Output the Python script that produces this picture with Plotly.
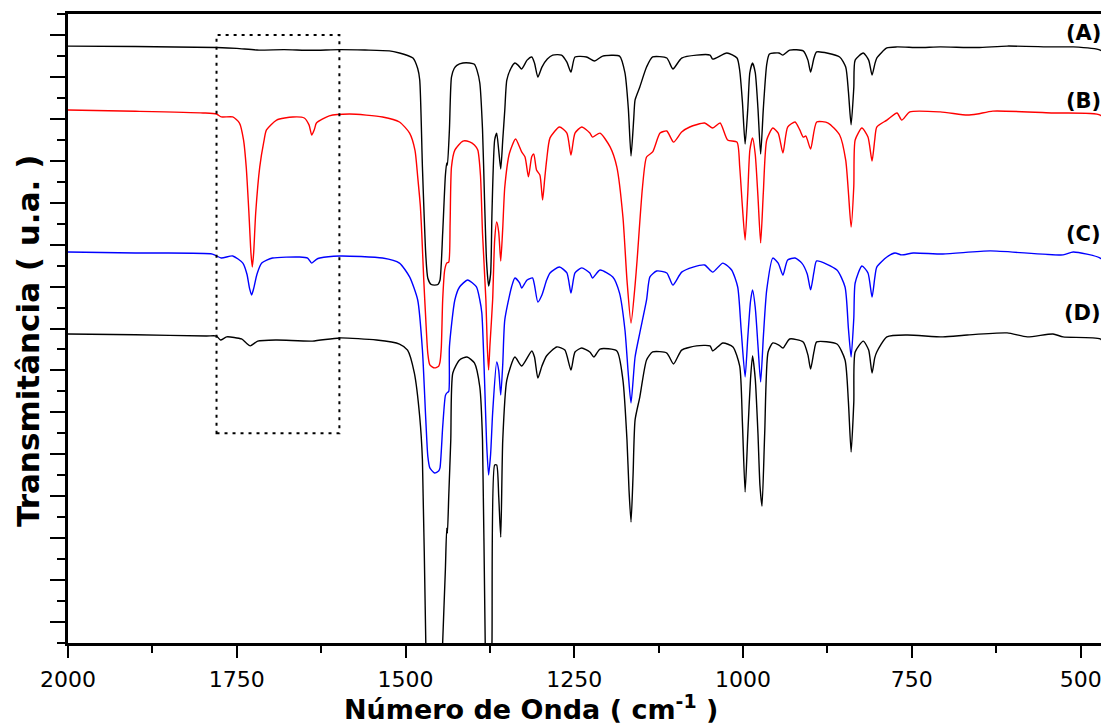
import plotly.graph_objects as go

# ---------------- data (wavenumber cm-1, transmittance a.u. with vertical offsets) ----------------
wn_a = [2000, 1900, 1780, 1750, 1720, 1680, 1640, 1598, 1560, 1524, 1509, 1497, 1489, 1482, 1479, 1475,
        1470, 1467, 1462, 1457, 1452, 1449, 1445, 1441, 1439, 1438, 1435, 1432, 1428, 1424, 1415, 1405,
        1398, 1394, 1390, 1386, 1383, 1380, 1377, 1374, 1372, 1368, 1365, 1362, 1359, 1356, 1353, 1350,
        1344, 1338, 1333, 1328, 1320, 1313, 1309, 1304, 1298, 1290, 1282, 1269, 1261, 1255, 1249, 1232,
        1220, 1208, 1183, 1175, 1170, 1166, 1162, 1160, 1153, 1143, 1134, 1113, 1104, 1091, 1069, 1049,
        1045, 1024, 1009, 1005, 1001, 997, 993, 990, 986, 982, 978, 974, 970, 965, 961, 947, 941, 931,
        911, 904, 900, 895, 891, 857, 848, 844, 840, 836, 834, 822, 814, 809, 805, 802, 787, 772, 740,
        708, 653, 609, 541, 511, 471, 459]
tr_a = [28.47, 28.45, 28.40, 28.36, 28.28, 28.30, 28.27, 28.30, 28.28, 28.24, 28.14, 28.02, 27.90, 27.40,
        26.85, 22.70, 18.50, 17.40, 17.10, 17.07, 17.10, 17.30, 19.55, 22.30, 22.89, 22.80, 24.50, 26.99,
        27.40, 27.55, 27.66, 27.66, 27.60, 27.30, 26.71, 24.50, 21.13, 18.20, 17.03, 17.60, 20.50, 23.99,
        24.32, 23.50, 22.61, 24.00, 25.42, 26.85, 27.40, 27.66, 27.55, 27.38, 27.80, 27.95, 27.66, 26.99,
        27.47, 27.85, 28.04, 28.04, 27.70, 27.23, 27.95, 27.95, 27.76, 27.99, 27.99, 27.19, 25.50, 23.23,
        25.00, 25.90, 26.52, 27.47, 27.95, 27.90, 27.38, 27.90, 28.04, 28.04, 27.85, 28.14, 27.90, 27.30,
        25.80, 23.80, 25.50, 27.20, 27.66, 27.20, 25.50, 23.32, 25.50, 27.60, 28.09, 28.14, 28.04, 28.28,
        28.24, 27.80, 27.23, 27.90, 28.19, 27.95, 27.47, 26.30, 24.71, 26.50, 27.80, 28.14, 27.80, 27.09,
        27.60, 27.90, 28.38, 28.43, 28.40, 28.43, 28.40, 28.47, 28.43, 28.43, 28.28, 27.95]

wn_b = [2000, 1900, 1800, 1780, 1773, 1756, 1746, 1740, 1736, 1732, 1729, 1727, 1725, 1722, 1716, 1710,
        1706, 1691, 1667, 1650, 1643, 1639, 1635, 1632, 1613, 1583, 1534, 1509, 1494, 1486, 1482, 1478,
        1476, 1473, 1470, 1467, 1464, 1457, 1451, 1449, 1447, 1445, 1442, 1439, 1436, 1434, 1432, 1427,
        1415, 1405, 1398, 1393, 1389, 1386, 1381, 1379, 1377, 1375, 1371, 1368, 1365, 1362, 1359, 1356,
        1353, 1346, 1337, 1328, 1323, 1318, 1313, 1310, 1306, 1301, 1297, 1294, 1291, 1286, 1272, 1261,
        1255, 1249, 1239, 1227, 1223, 1212, 1197, 1187, 1178, 1172, 1166, 1160, 1157, 1149, 1143, 1134,
        1123, 1113, 1103, 1091, 1079, 1057, 1045, 1034, 1023, 1009, 1005, 1001, 997, 993, 990, 986, 982,
        978, 974, 970, 965, 956, 948, 941, 934, 923, 916, 911, 907, 900, 891, 874, 857, 848, 844, 840,
        836, 834, 824, 815, 809, 805, 802, 787, 772, 765, 753, 708, 668, 653, 630, 541, 471, 459]
tr_b = [25.42, 25.36, 25.28, 25.23, 25.09, 25.09, 24.80, 24.00, 22.70, 20.50, 18.60, 17.93, 18.60, 20.50,
        22.70, 23.90, 24.47, 24.94, 25.09, 25.04, 24.71, 24.23, 24.50, 24.80, 25.14, 25.23, 25.09, 24.85,
        24.32, 23.50, 22.23, 20.80, 19.55, 17.30, 15.41, 13.80, 13.26, 13.12, 13.20, 13.40, 14.12, 16.36,
        17.79, 18.12, 18.17, 20.00, 22.70, 23.51, 23.94, 23.90, 23.75, 23.51, 22.30, 19.55, 16.36, 14.20,
        13.02, 14.20, 16.36, 19.22, 20.08, 19.60, 18.22, 19.80, 21.75, 23.37, 24.04, 23.42, 23.18, 22.23,
        23.20, 23.32, 22.56, 22.32, 21.13, 22.10, 23.03, 24.09, 24.61, 24.32, 23.27, 24.32, 24.61, 24.32,
        24.13, 24.32, 23.66, 22.70, 20.32, 17.31, 15.26, 17.07, 18.27, 21.75, 23.18, 23.42, 24.32, 24.42,
        23.89, 24.37, 24.61, 24.80, 24.56, 24.80, 23.99, 23.89, 22.70, 20.80, 19.22, 21.50, 23.50, 24.09,
        23.30, 21.30, 19.08, 21.50, 23.99, 24.56, 24.32, 23.37, 24.61, 24.85, 24.47, 24.13, 24.18, 23.56,
        24.85, 24.80, 24.23, 23.03, 21.50, 19.84, 21.80, 23.99, 24.56, 24.13, 22.99, 24.00, 24.61, 24.94,
        25.28, 24.94, 25.33, 25.33, 25.18, 25.23, 25.37, 25.28, 25.18, 24.61]

wn_c = [2000, 1900, 1786, 1773, 1756, 1741, 1735, 1731, 1728, 1725, 1720, 1713, 1697, 1657, 1645, 1639,
        1632, 1627, 1598, 1534, 1509, 1494, 1482, 1475, 1470, 1467, 1464, 1457, 1451, 1449, 1445, 1441,
        1439, 1436, 1435, 1427, 1420, 1408, 1395, 1390, 1387, 1383, 1380, 1377, 1374, 1371, 1365, 1362,
        1359, 1356, 1353, 1343, 1338, 1331, 1328, 1320, 1312, 1309, 1304, 1298, 1291, 1286, 1272, 1261,
        1255, 1249, 1239, 1227, 1223, 1212, 1193, 1183, 1175, 1170, 1166, 1160, 1153, 1143, 1138, 1128,
        1113, 1104, 1091, 1074, 1057, 1045, 1030, 1017, 1008, 1003, 997, 993, 989, 986, 982, 978, 974,
        970, 965, 956, 948, 941, 934, 923, 913, 905, 900, 895, 891, 861, 849, 844, 840, 836, 834, 824,
        815, 809, 805, 802, 787, 775, 765, 748, 704, 634, 526, 511, 471, 459]
tr_c = [18.65, 18.60, 18.55, 18.36, 18.46, 18.12, 17.60, 16.90, 16.60, 16.90, 17.60, 18.12, 18.36, 18.41,
        18.36, 18.12, 18.30, 18.36, 18.46, 18.36, 18.12, 17.46, 16.36, 13.97, 10.64, 8.90, 8.35, 8.11,
        8.20, 8.35, 10.30, 11.80, 11.92, 12.00, 14.12, 16.36, 16.98, 17.31, 16.98, 16.36, 15.74, 12.54,
        9.60, 8.01, 9.00, 10.97, 13.40, 13.00, 11.83, 13.30, 15.41, 16.98, 17.41, 17.17, 16.93, 17.31,
        17.41, 17.07, 16.26, 16.60, 17.31, 17.65, 17.93, 17.65, 16.69, 17.65, 17.89, 17.65, 17.41, 17.79,
        17.46, 16.69, 14.93, 12.80, 11.45, 13.64, 14.79, 16.36, 17.46, 17.74, 17.65, 17.07, 17.69, 17.93,
        18.03, 17.69, 18.12, 17.79, 16.98, 15.00, 12.69, 14.60, 16.30, 16.84, 16.00, 14.20, 12.45, 14.60,
        16.84, 18.36, 18.12, 17.55, 18.27, 18.36, 18.12, 17.60, 16.84, 17.70, 18.22, 17.79, 16.98, 15.00,
        13.64, 15.50, 17.17, 17.98, 17.65, 16.50, 17.40, 17.93, 18.41, 18.60, 18.51, 18.60, 18.55, 18.70,
        18.51, 18.65, 18.36, 17.93]

wn_d = [2000, 1900, 1795, 1780, 1774, 1765, 1743, 1736, 1730, 1719, 1691, 1638, 1598, 1543, 1509, 1497,
        1487, 1479, 1475, 1470, 1468, 1447, 1445, 1441, 1439, 1438, 1436, 1433, 1430, 1420, 1409, 1398,
        1390, 1386, 1382, 1380, 1374, 1372, 1368, 1365, 1362, 1359, 1356, 1350, 1338, 1328, 1313, 1309,
        1304, 1298, 1291, 1276, 1264, 1255, 1249, 1239, 1227, 1221, 1212, 1187, 1178, 1172, 1169, 1166,
        1163, 1160, 1153, 1143, 1134, 1113, 1103, 1091, 1069, 1049, 1045, 1030, 1015, 1005, 1001, 997,
        993, 989, 986, 982, 978, 975, 972, 968, 963, 956, 947, 941, 931, 911, 904, 900, 895, 891, 861,
        849, 844, 840, 836, 834, 822, 814, 809, 805, 802, 787, 757, 704, 668, 609, 579, 541, 526, 471, 459]
tr_d = [14.74, 14.70, 14.64, 14.64, 14.45, 14.60, 14.50, 14.31, 14.17, 14.40, 14.45, 14.40, 14.55, 14.45,
        14.26, 13.97, 12.88, 10.78, 8.73, 0.00, -2.00, -2.00, 0.05, 3.50, 5.48, 5.24, 7.00, 9.68, 12.88,
        13.50, 13.64, 13.36, 12.21, 9.68, 0.00, -2.00, -2.00, 0.00, 8.49, 8.49, 7.00, 5.05, 9.68, 12.54,
        13.64, 13.21, 13.93, 13.64, 12.64, 13.21, 13.70, 14.12, 13.97, 13.02, 13.88, 14.07, 13.88, 13.64,
        14.02, 13.93, 12.54, 9.68, 7.30, 5.77, 8.00, 10.64, 11.73, 13.50, 13.88, 13.83, 13.31, 13.97,
        14.17, 14.17, 13.93, 14.31, 14.12, 13.20, 10.50, 7.20, 10.00, 12.60, 13.69, 12.60, 10.00, 7.50,
        6.53, 10.00, 13.88, 14.31, 14.21, 14.07, 14.50, 14.36, 13.74, 13.07, 13.90, 14.36, 14.26, 13.50,
        11.50, 9.11, 11.50, 13.88, 14.40, 13.97, 12.88, 13.60, 13.88, 14.60, 14.69, 14.60, 14.69, 14.79,
        14.60, 14.74, 14.60, 14.50, 14.02]

labels = ["(A)", "(B)", "(C)", "(D)"]
label_y = [29.09, 25.85, 19.51, 15.74]
colors = ["black", "red", "blue", "black"]

box_x = [1780, 1598]
box_y = [10, 29]

x_range = [2000, 458]
y_range = [0, 30]

FONT = "DejaVu Sans, Liberation Sans, Arial"

# ---------------- figure ----------------
fig = go.Figure()
for wn, tr, col, name in zip([wn_a, wn_b, wn_c, wn_d], [tr_a, tr_b, tr_c, tr_d], colors, labels):
    fig.add_trace(go.Scatter(x=wn, y=tr, mode="lines", name=name,
                             line=dict(color=col, width=1.4, shape="spline", smoothing=0.6),
                             showlegend=False))

fig.add_shape(type="rect", xref="x", yref="y", x0=box_x[0], x1=box_x[1], y0=box_y[0], y1=box_y[1],
              line=dict(color="black", width=2, dash="3px,5px"))

for lab, ly in zip(labels, label_y):
    fig.add_annotation(x=467, y=ly, xref="x", yref="y", text="<b>" + lab + "</b>", showarrow=False,
                       xanchor="right", yanchor="middle",
                       font=dict(family=FONT, size=21, color="black"))

fig.add_annotation(xref="paper", yref="paper", x=0, y=0.480, xshift=-40,
                   text="<b>Transmitância ( u.a. )</b>",
                   textangle=-90, showarrow=False, xanchor="center", yanchor="middle",
                   font=dict(family=FONT, size=31, color="black"))
fig.add_annotation(xref="paper", yref="paper", x=0.4443, y=-0.1033,
                   text="<b>Número de Onda ( cm<sup>-1</sup> )</b>",
                   showarrow=False, xanchor="center", yanchor="middle",
                   font=dict(family=FONT, size=27, color="black"))

# the page body adds an 8 px margin, so the figure is sized to fill the rest of the window
fig.update_layout(
    width=1101, height=719,
    margin=dict(l=60, r=0, t=6, b=84),
    paper_bgcolor="white", plot_bgcolor="white",
    font=dict(family=FONT, color="black"),
)
fig.update_xaxes(range=x_range, autorange=False, showgrid=False, zeroline=False,
                 showline=True, linecolor="black", linewidth=3, mirror=True,
                 ticks="outside", ticklen=12, tickwidth=2, tickcolor="black",
                 tick0=0, dtick=250, tickfont=dict(size=22, family=FONT), ticklabelstandoff=3,
                 minor=dict(ticks="outside", ticklen=7, tickwidth=2, tickcolor="black", dtick=125, tick0=0))
fig.update_yaxes(range=y_range, autorange=False, showgrid=False, zeroline=False,
                 showline=True, linecolor="black", linewidth=3,
                 ticks="outside", ticklen=15, tickwidth=2, tickcolor="black",
                 tick0=1, dtick=2, showticklabels=False,
                 minor=dict(ticks="outside", ticklen=8, tickwidth=2, tickcolor="black", dtick=1, tick0=0))

fig.write_html("out.html")
